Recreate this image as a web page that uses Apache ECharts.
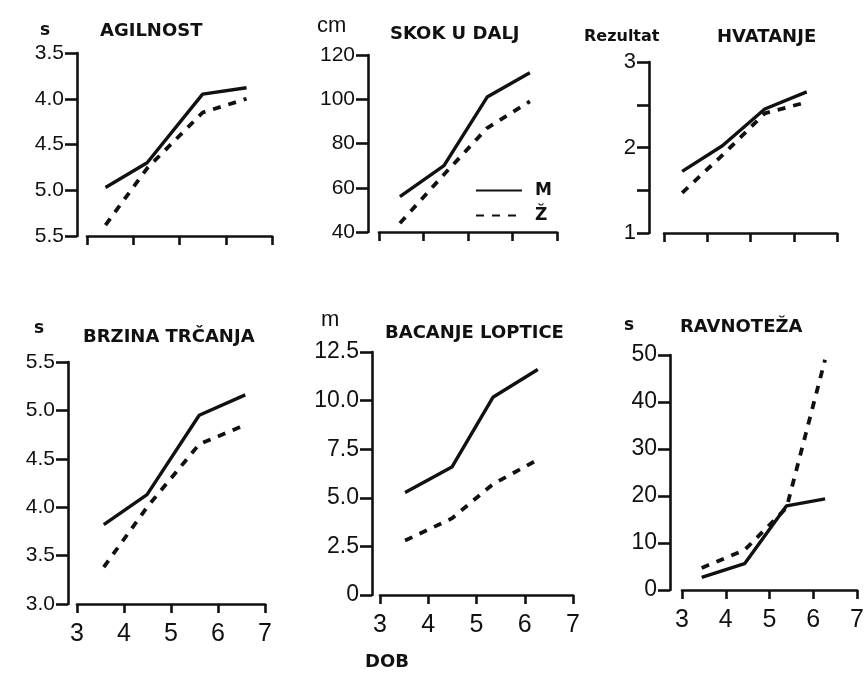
<!DOCTYPE html>
<html>
<head>
<meta charset="utf-8">
<script src="https://cdn.jsdelivr.net/npm/echarts@6/dist/echarts.min.js"></script>
<style>
html,body{margin:0;padding:0;background:#fff;}
#c{width:867px;height:673px;}
</style>
</head>
<body>
<div id="c"></div>
<script>
// ---- data ----
const titles = ['AGILNOST', 'SKOK U DALJ', 'HVATANJE', 'BRZINA TRČANJA', 'BACANJE LOPTICE', 'RAVNOTEŽA'];
const units = ['s', 'cm', 'Rezultat', 's', 'm', 's'];
const seriesNames = ['M', 'Ž'];
const xTicks = [3, 4, 5, 6, 7];
const xAxisTitle = 'DOB';

const agesAgil = [3.4, 4.3, 5.5, 6.45];
const agilM = [4.97, 4.70, 3.95, 3.88];
const agilZ = [5.38, 4.76, 4.15, 4.0];

const agesSkok = [3.47, 4.46, 5.43, 6.39];
const skokM = [56, 70, 101, 112];
const skokZ = [44, 66, 87, 99];

const agesHvat = [3.42, 4.35, 5.33, 6.3];
const hvatM = [1.72, 2.02, 2.45, 2.65];
const hvatZ = [1.47, 1.91, 2.4, 2.53];

const agesBrz = [3.57, 4.49, 5.6, 6.58];
const brzM = [3.82, 4.13, 4.95, 5.16];
const brzZ = [3.38, 4.0, 4.65, 4.85];

const agesBac = [3.52, 4.49, 5.34, 6.27];
const bacM = [5.27, 6.58, 10.17, 11.6];
const bacZ = [2.8, 3.94, 5.7, 6.96];

const agesRav = [3.45, 4.43, 5.39, 6.27];
const ravM = [2.7, 5.6, 17.9, 19.4];
const ravZ = [4.7, 8.5, 17.5, 49];

const yTicksAgil = [3.5, 4.0, 4.5, 5.0, 5.5];
const yTicksSkok = [40, 60, 80, 100, 120];
const yTicksHvat = [1, 1.5, 2, 2.5, 3];
const yTicksBrz = [3.0, 3.5, 4.0, 4.5, 5.0, 5.5];
const yTicksBac = [0, 2.5, 5.0, 7.5, 10.0, 12.5];
const yTicksRav = [0, 10, 20, 30, 40, 50];

// ---- layout ----
const panels = [
  {ages: agesAgil, m: agilM, z: agilZ, yt: yTicksAgil, inverse: true,  fmt: v => v.toFixed(1),
   grid: {left: 87, top: 53, width: 185, height: 183}, yOff: 10, xLabels: false, ySize: 21,
   title: [100, 22], unit: [40, 22], unitBold: true, unitSize: 17},
  {ages: agesSkok, m: skokM, z: skokZ, yt: yTicksSkok, inverse: false, fmt: v => String(v),
   grid: {left: 379, top: 55, width: 178, height: 177}, yOff: 11, xLabels: false, ySize: 21,
   title: [390, 25], unit: [317, 15], unitBold: false, unitSize: 22},
  {ages: agesHvat, m: hvatM, z: hvatZ, yt: yTicksHvat, inverse: false, fmt: v => (v % 1 === 0 ? String(v) : ''),
   grid: {left: 664, top: 62, width: 173, height: 171}, yOff: 15, xLabels: false, ySize: 22,
   title: [717, 28], unit: [584, 29], unitBold: true, unitSize: 16},
  {ages: agesBrz, m: brzM, z: brzZ, yt: yTicksBrz, inverse: false, fmt: v => v.toFixed(1),
   grid: {left: 77, top: 362, width: 188, height: 242}, yOff: 9, xLabels: true, ySize: 21,
   title: [83, 328], unit: [34, 320], unitBold: true, unitSize: 17},
  {ages: agesBac, m: bacM, z: bacZ, yt: yTicksBac, inverse: false, fmt: v => (v === 0 ? '0' : v.toFixed(1)),
   grid: {left: 380, top: 352, width: 193, height: 243}, yOff: 8, xLabels: true, ySize: 23,
   title: [385, 324], unit: [321, 309], unitBold: false, unitSize: 22},
  {ages: agesRav, m: ravM, z: ravZ, yt: yTicksRav, inverse: false, fmt: v => String(v),
   grid: {left: 682, top: 355, width: 175, height: 235}, yOff: 12, xLabels: true, ySize: 23,
   title: [680, 318], unit: [624, 317], unitBold: true, unitSize: 17}
];

const black = '#111';
const grids = [], xAxes = [], yAxes = [], series = [], graphics = [];

panels.forEach((p, i) => {
  grids.push(Object.assign({outerBoundsMode: 'none', containLabel: false}, p.grid));
  xAxes.push({
    type: 'value', gridIndex: i, min: xTicks[0], max: xTicks[xTicks.length - 1], interval: 1,
    axisLine: {show: true, onZero: false, lineStyle: {color: black, width: 2.6}},
    axisTick: {show: true, length: 9, lineStyle: {color: black, width: 2.6}},
    axisLabel: {show: p.xLabels, margin: 18, fontSize: 25, color: black, fontFamily: 'Liberation Sans'},
    splitLine: {show: false}
  });
  const step = p.yt[1] - p.yt[0];
  yAxes.push({
    type: 'value', gridIndex: i, min: p.yt[0], max: p.yt[p.yt.length - 1], interval: step,
    inverse: p.inverse, offset: p.yOff,
    axisLine: {show: true, onZero: false, lineStyle: {color: black, width: 2.6}},
    axisTick: {show: true, length: 12, lineStyle: {color: black, width: 2.6}},
    axisLabel: {show: true, margin: 13, fontSize: p.ySize, color: black, fontFamily: 'Liberation Sans',
                formatter: p.fmt},
    splitLine: {show: false}
  });
  series.push({
    name: seriesNames[0], type: 'line', xAxisIndex: i, yAxisIndex: i, symbol: 'none',
    data: p.ages.map((a, k) => [a, p.m[k]]),
    lineStyle: {color: black, width: 3.4, type: 'solid'}, itemStyle: {color: black},
    silent: true, animation: false
  });
  series.push({
    name: seriesNames[1], type: 'line', xAxisIndex: i, yAxisIndex: i, symbol: 'none',
    data: p.ages.map((a, k) => [a, p.z[k]]),
    lineStyle: {color: black, width: 3.8, type: [8, 8]}, itemStyle: {color: black},
    silent: true, animation: false
  });
  graphics.push({
    type: 'text', left: p.title[0], top: p.title[1],
    style: {text: titles[i], fontSize: 18, fontWeight: 'bold', fill: black, fontFamily: 'DejaVu Sans'}
  });
  graphics.push({
    type: 'text', left: p.unit[0], top: p.unit[1],
    style: {text: units[i], fontSize: p.unitSize, fontWeight: p.unitBold ? 'bold' : 'normal',
            fill: black, fontFamily: p.unitBold ? 'DejaVu Sans' : 'Liberation Sans'}
  });
});

graphics.push({
  type: 'text', left: 365, top: 653,
  style: {text: xAxisTitle, fontSize: 18, fontWeight: 'bold', fill: black, fontFamily: 'DejaVu Sans'}
});

const chart = echarts.init(document.getElementById('c'), null, {renderer: 'canvas'});
chart.setOption({
  backgroundColor: '#fff',
  animation: false,
  grid: grids,
  xAxis: xAxes,
  yAxis: yAxes,
  legend: {
    data: seriesNames, orient: 'vertical', left: 470, top: 177,
    itemWidth: 46, itemHeight: 14, itemGap: 8, selectedMode: false,
    itemStyle: {color: 'rgba(0,0,0,0)', borderWidth: 0, opacity: 0},
    textStyle: {fontSize: 17, fontWeight: 'bold', color: black, fontFamily: 'DejaVu Sans', padding: [0, 0, 0, 8]}
  },
  graphic: graphics,
  series: series
});
</script>
</body>
</html>
